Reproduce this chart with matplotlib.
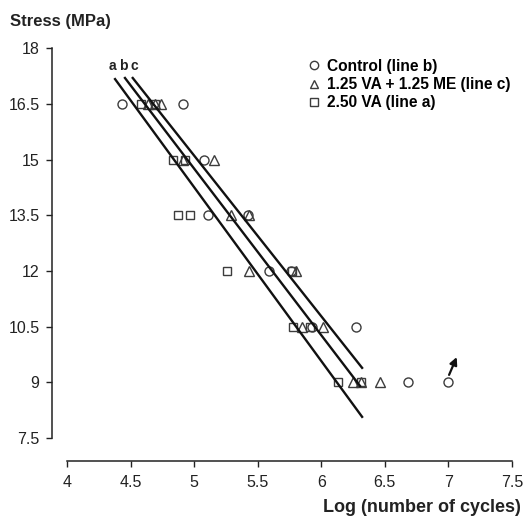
import matplotlib.pyplot as plt
from matplotlib.lines import Line2D

plt.rcParams['font.family'] = ['Liberation Sans', 'DejaVu Sans']

# Points : log(cycles), contrainte (MPa)
control_x = [4.43, 4.91, 5.08, 5.11, 5.42, 5.59, 5.76, 5.93, 6.27, 6.68, 7.00]
control_y = [16.5, 16.5, 15.0, 13.5, 13.5, 12.0, 12.0, 10.5, 10.5, 9.0, 9.0]

mix_x = [4.64, 4.69, 4.74, 4.91, 5.16, 5.29, 5.43, 5.43, 5.80, 5.85, 6.01, 6.25, 6.31, 6.46]
mix_y = [16.5, 16.5, 16.5, 15.0, 15.0, 13.5, 13.5, 12.0, 12.0, 10.5, 10.5, 9.0, 9.0, 9.0]

va_x = [4.58, 4.69, 4.83, 4.93, 4.87, 4.97, 5.26, 5.77, 5.78, 5.91, 6.13, 6.31]
va_y = [16.5, 16.5, 15.0, 15.0, 13.5, 13.5, 12.0, 12.0, 10.5, 10.5, 9.0, 9.0]

# Droites de régression (extrémités)
line_a_x = [4.378, 6.321]
line_a_y = [17.17, 8.07]
line_b_x = [4.456, 6.305]
line_b_y = [17.20, 8.90]
line_c_x = [4.517, 6.321]
line_c_y = [17.20, 9.39]

line_labels = ["a", "b", "c"]
line_label_x = [4.354, 4.44, 4.527]
line_label_y = 17.52

x_ticks = [4, 4.5, 5, 5.5, 6, 6.5, 7, 7.5]
x_tick_labels = ["4", "4.5", "5", "5.5", "6", "6.5", "7", "7.5"]
y_ticks = [7.5, 9, 10.5, 12, 13.5, 15, 16.5, 18]
y_tick_labels = ["7.5", "9", "10.5", "12", "13.5", "15", "16.5", "18"]

fig = plt.figure(figsize=(5.23, 5.17), dpi=100)
ax = fig.add_axes([0.0994, 0.1083, 0.8796, 0.7983])

edge = "#3c3c3c"
ms = 6.5
ax.plot(control_x, control_y, "o", ms=ms, mfc="white", mec=edge, mew=1.0, ls="none", clip_on=False)
ax.plot(mix_x, mix_y, "^", ms=ms + 0.5, mfc="none", mec=edge, mew=1.0, ls="none", clip_on=False)
ax.plot(va_x, va_y, "s", ms=ms - 0.5, mfc="none", mec=edge, mew=1.0, ls="none", clip_on=False)

for lx, ly in [(line_a_x, line_a_y), (line_b_x, line_b_y), (line_c_x, line_c_y)]:
    ax.plot(lx, ly, color="#111111", lw=1.7, clip_on=False)

for lab, lx in zip(line_labels, line_label_x):
    ax.text(lx, line_label_y, lab, ha="center", va="center", fontsize=10, fontweight="bold",
            color="#222222")

# flèche (essai non rompu)
ax.annotate("", xy=(7.065, 9.68), xytext=(7.005, 9.2),
            arrowprops=dict(arrowstyle="-|>", color="#111111", lw=1.6, mutation_scale=11,
                            shrinkA=0, shrinkB=0))

ax.set_xlim(3.882, 7.5)
ax.set_ylim(6.88, 18)
ax.spines["top"].set_visible(False)
ax.spines["right"].set_visible(False)
ax.spines["left"].set_bounds(7.5, 18)
ax.spines["bottom"].set_bounds(4, 7.5)
for s in ("left", "bottom"):
    ax.spines[s].set_linewidth(1.1)
    ax.spines[s].set_color("#222222")

ax.set_xticks(x_ticks)
ax.set_xticklabels(x_tick_labels)
ax.set_yticks(y_ticks)
ax.set_yticklabels(y_tick_labels)
ax.tick_params(direction="out", length=4, width=1.0, labelsize=11.5, colors="#222222")
ax.tick_params(axis="y", pad=5)
ax.tick_params(axis="x", pad=6)

fig.text(0.019, 0.958, "Stress (MPa)", fontsize=12, fontweight="bold", ha="left", va="center",
         color="#222222")
fig.text(0.995, 0.019, "Log (number of cycles)", fontsize=13, fontweight="bold", ha="right",
         va="center", color="#222222")

handles = [
    Line2D([], [], marker="o", ls="none", ms=6, mfc="white", mec=edge, mew=1.0),
    Line2D([], [], marker="^", ls="none", ms=6, mfc="none", mec=edge, mew=1.0),
    Line2D([], [], marker="s", ls="none", ms=5.5, mfc="none", mec=edge, mew=1.0),
]
ax.legend(handles, ["Control (line b)", "1.25 VA + 1.25 ME (line c)", "2.50 VA (line a)"],
          loc="upper left", bbox_to_anchor=(0.54, 0.99), frameon=False,
          handletextpad=0.3, labelspacing=0.22, handlelength=1.0, borderaxespad=0,
          prop={"weight": "bold", "size": 11.2})

fig.savefig("out.png", dpi=100)
